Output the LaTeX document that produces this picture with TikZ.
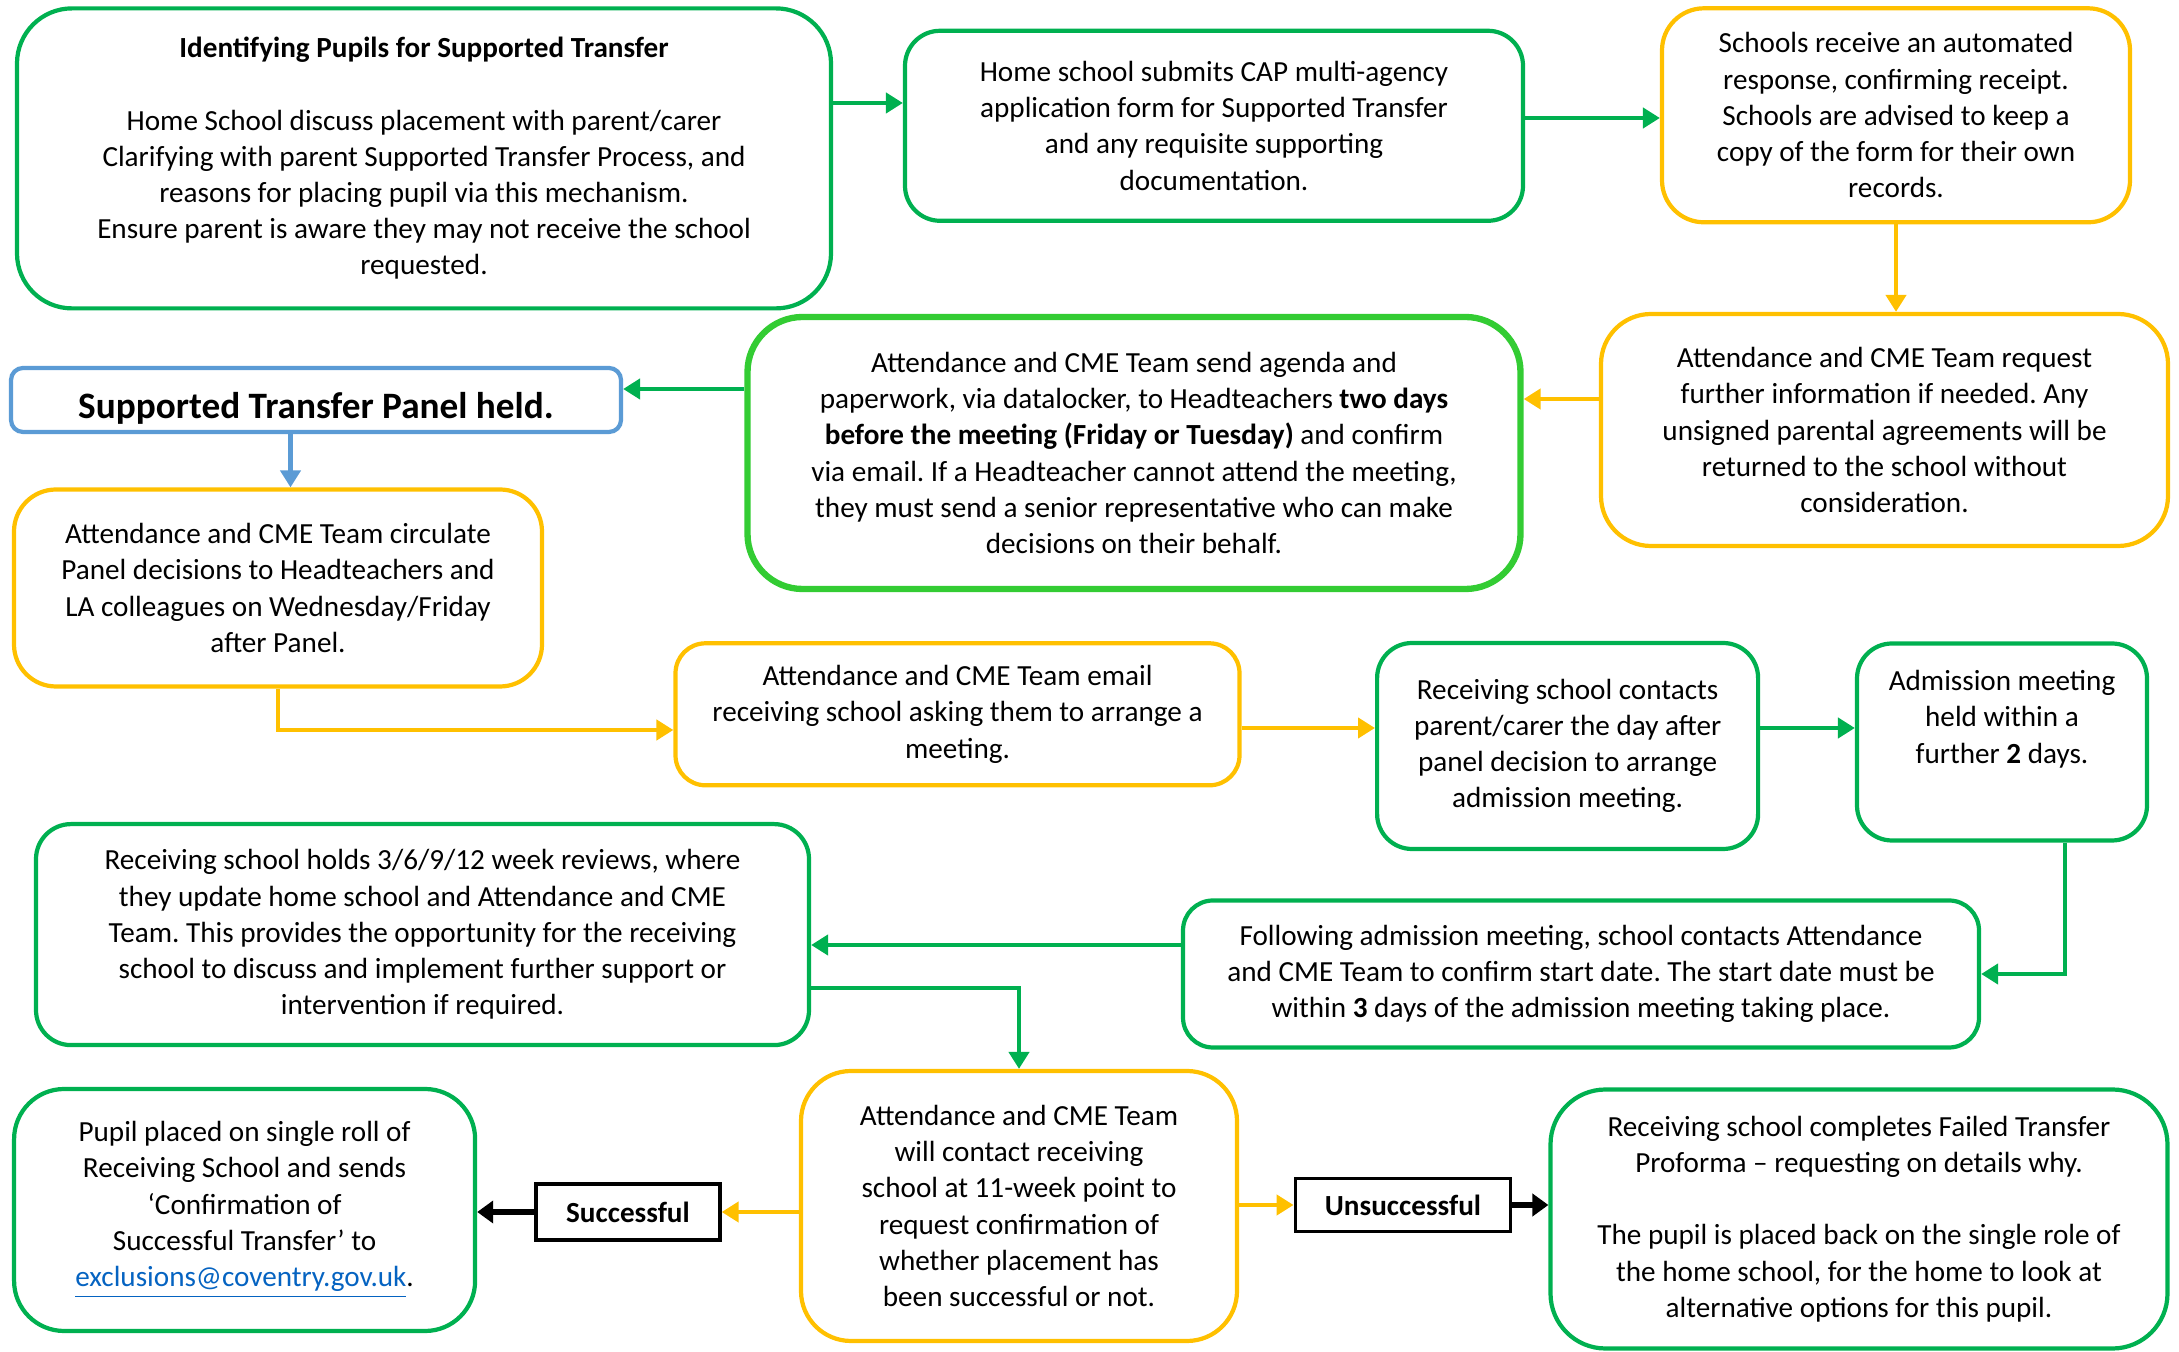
\documentclass[tikz,border=0pt]{standalone}
\usepackage{fontspec}
\setmainfont{Carlito}
\frenchspacing
\usetikzlibrary{arrows.meta}
\definecolor{boxgreen}{HTML}{00B050}
\definecolor{boxlime}{HTML}{33CC33}
\definecolor{boxamber}{HTML}{FFC000}
\definecolor{boxblue}{HTML}{5B9BD5}
\definecolor{linkblue}{HTML}{0563C1}
\tikzset{
	stage/.style={draw, line width=1.2pt, align=center, inner sep=2pt, font=\fontsize{8.3}{10.3}\selectfont},
	gbox/.style={stage, draw=boxgreen},
	ybox/.style={stage, draw=boxamber},
	outcome/.style={draw=black, line width=1.1pt, inner sep=2pt, font=\fontsize{8.3}{10.3}\selectfont\bfseries},
	garrow/.style={draw=boxgreen, line width=1.3pt, -{Triangle[length=1.7mm,width=2mm]}},
	yarrow/.style={draw=boxamber, line width=1.3pt, -{Triangle[length=1.7mm,width=2mm]}},
	barrow/.style={draw=boxblue, line width=1.3pt, -{Triangle[length=1.7mm,width=2mm]}},
	karrow/.style={draw=black, line width=1.9pt, -{Triangle[length=1.6mm,width=2.2mm]}}
}

\begin{document}
\begin{tikzpicture}
	\useasboundingbox (0,0) rectangle (21.79,-13.52);

	\node[gbox, rounded corners=0.55cm, minimum width=8.14cm, minimum height=3cm] (identify) at (4.24,-1.584) {\textbf{Identifying Pupils for Supported Transfer}\\[10.3pt]Home School discuss placement with parent/carer\\Clarifying with parent Supported Transfer Process, and\\reasons for placing pupil via this mechanism.\\Ensure parent is aware they may not receive the school\\requested.};
	\node[gbox, rounded corners=0.35cm, minimum width=6.18cm, minimum height=1.9cm] (submit) at (12.14,-1.258) {Home school submits CAP multi-agency\\application form for Supported Transfer\\and any requisite supporting\\documentation.};
	\node[ybox, rounded corners=0.42cm, minimum width=4.68cm, minimum height=2.14cm] (receipt) at (18.96,-1.153) {Schools receive an automated\\response, confirming receipt.\\Schools are advised to keep a\\copy of the form for their own\\records.};
	\node[ybox, rounded corners=0.5cm, minimum width=5.67cm, minimum height=2.32cm] (request) at (18.845,-4.30) {Attendance and CME Team request\\further information if needed. Any\\unsigned parental agreements will be\\returned to the school without\\consideration.};
	\node[stage, draw=boxlime, line width=1.8pt, rounded corners=0.55cm, minimum width=7.73cm, minimum height=2.72cm] (agenda) at (11.34,-4.53) {Attendance and CME Team send agenda and\\paperwork, via datalocker, to Headteachers \textbf{two days}\\\textbf{before the meeting (Friday or Tuesday)} and confirm\\via email. If a Headteacher cannot attend the meeting,\\they must send a senior representative who can make\\decisions on their behalf.};
	\node[stage, draw=boxblue, rounded corners=0.12cm, minimum width=6.1cm, minimum height=0.64cm, font=\fontsize{10.6}{12}\selectfont\bfseries] (panel) at (3.16,-4.0) {\raisebox{-2.5pt}[7.5pt][2pt]{Supported Transfer Panel held.}};
	\node[ybox, rounded corners=0.42cm, minimum width=5.28cm, minimum height=1.97cm] (circulate) at (2.78,-5.88) {Attendance and CME Team circulate\\Panel decisions to Headteachers and\\LA colleagues on Wednesday/Friday\\after Panel.};
	\node[ybox, rounded corners=0.3cm, minimum width=5.64cm, minimum height=1.42cm] (email) at (9.575,-7.143) {Attendance and CME Team email\\receiving school asking them to arrange a\\meeting.};
	\node[gbox, rounded corners=0.35cm, minimum width=3.81cm, minimum height=2.06cm] (contact) at (15.676,-7.46) {Receiving school contacts\\parent/carer the day after\\panel decision to arrange\\admission meeting.};
	\node[gbox, rounded corners=0.35cm, minimum width=2.9cm, minimum height=1.97cm] (admission) at (20.02,-7.42) {Admission meeting\\held within a\\further \textbf{2} days.\\[4pt]\mbox{}};
	\node[gbox, rounded corners=0.3cm, minimum width=7.96cm, minimum height=1.47cm] (startdate) at (15.81,-9.74) {Following admission meeting, school contacts Attendance\\and CME Team to confirm start date. The start date must be\\within \textbf{3} days of the admission meeting taking place.};
	\node[gbox, rounded corners=0.35cm, minimum width=7.73cm, minimum height=2.21cm] (reviews) at (4.225,-9.346) {Receiving school holds 3/6/9/12 week reviews, where\\they update home school and Attendance and CME\\Team. This provides the opportunity for the receiving\\school to discuss and implement further support or\\intervention if required.};
	\node[ybox, rounded corners=0.5cm, minimum width=4.36cm, minimum height=2.7cm] (check) at (10.19,-12.06) {Attendance and CME Team\\will contact receiving\\school at 11-week point to\\request confirmation of\\whether placement has\\been successful or not.};
	\node[gbox, rounded corners=0.5cm, minimum width=4.61cm, minimum height=2.42cm] (placed) at (2.446,-12.10) {Pupil placed on single roll of\\Receiving School and sends\\‘Confirmation of\\Successful Transfer’ to\\\textcolor{linkblue}{\underline{exclusions@coventry.gov.uk}}.};
	\node[outcome, minimum width=1.835cm, minimum height=0.556cm] (success) at (6.28,-12.12) {Successful};
	\node[outcome, minimum width=2.15cm, minimum height=0.53cm] (fail) at (14.03,-12.05) {Unsuccessful};
	\node[gbox, rounded corners=0.55cm, minimum width=6.17cm, minimum height=2.59cm] (failed) at (18.59,-12.19) {Receiving school completes Failed Transfer\\Proforma – requesting on details why.\\[10.3pt]The pupil is placed back on the single role of\\the home school, for the home to look at\\alternative options for this pupil.};

	\draw[garrow] (identify.east |- 0,-1.03) -- (submit.west |- 0,-1.03);
	\draw[garrow] (submit.east |- 0,-1.18) -- (receipt.west |- 0,-1.18);
	\draw[yarrow] (receipt.south) -- (receipt.south |- request.north);
	\draw[yarrow] (request.west |- 0,-3.99) -- (agenda.east |- 0,-3.99);
	\draw[garrow] (agenda.west |- 0,-3.89) -- (panel.east |- 0,-3.89);
	\draw[barrow] (2.905,0 |- panel.south) -- (2.905,0 |- circulate.north);
	\draw[yarrow] (circulate.south) |- (email.west |- 0,-7.30);
	\draw[yarrow] (email.east |- 0,-7.28) -- (contact.west |- 0,-7.28);
	\draw[garrow] (contact.east |- 0,-7.28) -- (admission.west |- 0,-7.28);
	\draw[garrow] (20.65,0 |- admission.south) |- (startdate.east);
	\draw[garrow] (startdate.west |- 0,-9.45) -- (reviews.east |- 0,-9.45);
	\draw[garrow] (reviews.east |- 0,-9.88) -| (check.north);
	\draw[yarrow] (check.west |- success.east) -- (success.east);
	\draw[karrow] (success.west) -- (placed.east |- success.west);
	\draw[yarrow] (check.east |- fail.west) -- (fail.west);
	\draw[karrow] (fail.east) -- (failed.west |- fail.east);
\end{tikzpicture}
\end{document}
